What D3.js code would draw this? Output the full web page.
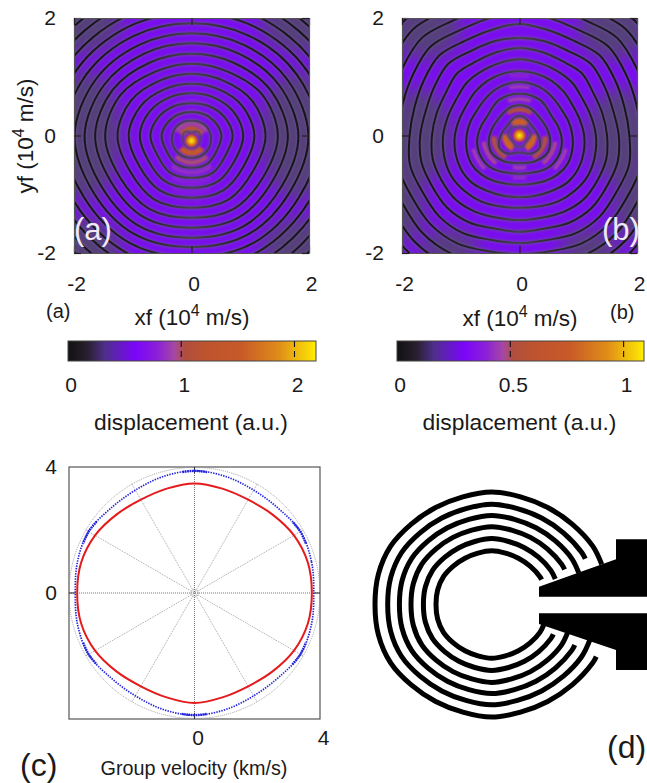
<!DOCTYPE html>
<html>
<head><meta charset="utf-8"></head>
<style>
  body { margin: 0; background: #fff; overflow: hidden; }
  text { font-family: "Liberation Sans", Arial, sans-serif; fill: #1a1a1a; }
  .ax path { stroke: #555; stroke-width: 1.2; fill: none; }
  .ax line { stroke: #222; stroke-width: 1.2; }
  .ax text { font-size: 21px; font-family: "Liberation Sans", Arial, sans-serif; fill: #1a1a1a; }
</style>
<script src="https://cdnjs.cloudflare.com/ajax/libs/d3/7.8.5/d3.min.js"></script>
<svg id="fig" width="647" height="783"></svg>
<script>
// ring radii of the dark nodal lines, 10^4 m/s, right half only (the maps mirror about xf = 0)
var ringAnglesA = [-90, -60, -30, 0, 30, 60, 90];
var ringsA = [
  [.21, .20, .17, .15, .12, .07, .03],
  [.38, .38, .36, .33, .30, .27, .25],
  [.55, .55, .50, .51, .46, .42, .40],
  [.72, .73, .67, .70, .64, .58, .55],
  [.89, .90, .85, .88, .82, .75, .72],
  [1.06, 1.08, 1.03, 1.07, 1.00, .91, .88],
  [1.23, 1.26, 1.21, 1.26, 1.19, 1.08, 1.05],
  [1.40, 1.44, 1.41, 1.47, 1.39, 1.25, 1.22],
  [1.57, 1.61, 1.58, 1.64, 1.55, 1.43, 1.39],
  [1.74, 1.78, 1.76, 1.82, 1.72, 1.61, 1.57],
  [1.90, 1.94, 1.93, 1.99, 1.89, 1.78, 1.74],
  [2.07, 2.11, 2.11, 2.18, 2.07, 1.96, 1.91],
  [2.24, 2.28, 2.29, 2.36, 2.25, 2.14, 2.08],
  [2.41, 2.45, 2.47, 2.55, 2.43, 2.32, 2.26],
  [2.58, 2.63, 2.65, 2.74, 2.61, 2.50, 2.43],
  [2.75, 2.81, 2.83, 2.92, 2.79, 2.67, 2.60],
  [2.92, 2.98, 3.01, 3.11, 2.97, 2.85, 2.77],
  [3.09, 3.16, 3.19, 3.30, 3.15, 3.03, 2.94]
];
var ringAnglesB = [-90, -75, -60, -45, -30, -15, 0, 15, 30, 45, 60, 75, 90];
var ringsB = [
  [.20, .19, .17, .15, .15, .17, .19, .19, .18, .19, .17, .14, .13],
  [.29, .31, .36, .39, .40, .36, .32, .29, .27, .27, .29, .32, .33],
  [.47, .48, .51, .54, .56, .54, .51, .48, .46, .46, .48, .51, .52],
  [.65, .66, .70, .74, .75, .74, .71, .67, .64, .66, .70, .71, .71],
  [.84, .85, .89, .93, .95, .93, .90, .87, .84, .85, .88, .90, .91],
  [1.05, 1.06, 1.09, 1.14, 1.15, 1.13, 1.10, 1.06, 1.04, 1.06, 1.08, 1.09, 1.10],
  [1.23, 1.25, 1.30, 1.33, 1.35, 1.33, 1.30, 1.26, 1.24, 1.27, 1.27, 1.28, 1.30],
  [1.44, 1.45, 1.50, 1.54, 1.53, 1.53, 1.49, 1.46, 1.45, 1.50, 1.46, 1.47, 1.49],
  [1.64, 1.64, 1.71, 1.74, 1.72, 1.73, 1.69, 1.65, 1.67, 1.72, 1.66, 1.66, 1.66],
  [1.83, 1.84, 1.92, 1.94, 1.91, 1.93, 1.87, 1.85, 1.88, 1.93, 1.86, 1.86, 1.90],
  [2.02, 2.04, 2.12, 2.14, 2.11, 2.13, 2.07, 2.06, 2.09, 2.14, 2.06, 2.06, 2.10],
  [2.22, 2.24, 2.32, 2.34, 2.30, 2.32, 2.27, 2.27, 2.30, 2.35, 2.26, 2.26, 2.30],
  [2.42, 2.45, 2.52, 2.54, 2.50, 2.51, 2.47, 2.48, 2.51, 2.56, 2.47, 2.46, 2.50],
  [2.62, 2.66, 2.72, 2.74, 2.69, 2.70, 2.67, 2.69, 2.72, 2.77, 2.68, 2.67, 2.70],
  [2.82, 2.87, 2.92, 2.95, 2.89, 2.89, 2.87, 2.90, 2.93, 2.98, 2.89, 2.88, 2.90],
  [3.02, 3.08, 3.12, 3.16, 3.09, 3.09, 3.07, 3.11, 3.14, 3.19, 3.10, 3.09, 3.10]
];

// bright lobes between rings: angle (deg), half span (deg), radius, radial width, displacement
var lobesA = [
  [90, 58, .20, .11, 1.3], [270, 55, .21, .12, 1.4],
  [90, 58, .31, .08, .95], [270, 45, .37, .09, .98],
  [90, 42, .50, .08, .78], [270, 38, .54, .08, .84],
  [90, 26, .68, .07, .72], [270, 28, .71, .08, .76],
  [270, 22, .88, .07, .72], [270, 16, 1.05, .06, .68]
];
var lobesB = [
  [90, 34, .235, .13, .78], [210, 34, .235, .13, .80], [330, 34, .235, .13, .80],
  [90, 28, .44, .09, .52], [210, 28, .44, .09, .52], [330, 28, .44, .09, .52],
  [90, 18, .62, .07, .46], [210, 20, .62, .07, .48], [330, 20, .62, .07, .48],
  [90, 12, .83, .06, .45], [210, 14, .82, .06, .46], [330, 14, .82, .06, .46],
  [90, 9, 1.02, .06, .40], [270, 12, .55, .07, .45], [270, 9, .72, .06, .42]
];
// muted, darker zones of the maps: x, y, rx, ry (10^4 m/s)
var mutedA = [[-1.8, 0, .6, 1.1], [1.8, 0, .6, 1.1], [-1.9, 1.9, .7, .5], [1.9, 1.9, .7, .5], [-1.9, -1.9, .7, .5], [1.9, -1.9, .7, .5]];
var mutedB = [[-1.6, 1.8, .6, .5], [1.6, 1.8, .6, .5], [-1.7, 0, .55, .8], [1.7, 0, .55, .8], [-2, -1.2, .4, .6], [2, -1.2, .4, .6], [-1.2, -1.9, .5, .3], [1.2, -1.9, .5, .3]];

// colour bar palette: position along bar, colour
var paletteStops = [0, .08, .15, .27, .36, .43, .47, .55, .7, .85, .97, 1];
var paletteColors = ["#111111", "#2a2030", "#4f2f8c", "#7a05fa", "#8a20d8", "#a648a4", "#b04e3e", "#bd5430", "#c85a28", "#e08c18", "#f8d808", "#ffee00"];
var barMaxA = 2.19, barTicksA = [0, 1, 2];
var barMaxB = 1.09, barTicksB = [0, .5, 1];

// panel (c), polar data every 15 degrees starting at 0
var polarAngles = d3.range(0, 360, 15);
var redRadii = [3.74, 3.74, 3.66, 3.52, 3.42, 3.43, 3.48, 3.43, 3.42, 3.52, 3.66, 3.74, 3.74, 3.74, 3.66, 3.52, 3.42, 3.43, 3.49, 3.43, 3.42, 3.52, 3.66, 3.74];
var blueRadii = [3.80, 3.86, 3.90, 3.79, 3.77, 3.83, 3.88, 3.83, 3.77, 3.79, 3.90, 3.86, 3.80, 3.86, 3.90, 3.79, 3.77, 3.83, 3.88, 3.83, 3.77, 3.79, 3.90, 3.86];
var blueBunches = [30, 90, 150, 210, 270, 330];
var spokeAngles = d3.range(0, 180, 30);

// panel (d), electrode drawn in its own units centred on the focus
var fingerRadii = [116.7, 104, 92.3, 80.7, 68.3, 55.7];
var fingerUpperEnd = [20, 26, 20, 25.6, 21.8, 26.5];
var fingerLowerEnd = [-26.5, -20, -26, -20, -25.8, -21];
var fingerAngles = [0, 15, 30, 45, 60, 75, 90];
var fingerShape = [1, 1.005, 1, .975, .96, .955, .965];
var upperPad = [[47.3, 17.8], [47.3, 7.8], [155.3, 7.8], [155.3, 65.2], [124.3, 65.2], [124.3, 45.2]];
var lowerPad = [[47.3, -8.8], [47.3, -19.5], [124.3, -45.5], [124.3, -65.5], [155.3, -65.5], [155.3, -8.8]];

var svg = d3.select("#fig");
var defs = svg.append("defs");

function blur(id, s) {
  defs.append("filter").attr("id", id)
      .attr("x", "-30%").attr("y", "-30%").attr("width", "160%").attr("height", "160%")
    .append("feGaussianBlur").attr("stdDeviation", s);
}
blur("b05", .6);
blur("b1", 1.1);
blur("b8", 9);

var paletteScale = d3.scaleLinear().domain(paletteStops).range(paletteColors);
var rad = Math.PI / 180;
var plainTick = function(d) { return String(d); };

function mirrorRing(angles, row) {
  // right half from -90 to 90, then the same points back on the left
  var pts = angles.map(function(a, i) { return [a, row[i]]; });
  for (var i = angles.length - 2; i > 0; i--) pts.push([180 - angles[i], row[i]]);
  return pts;
}

function drawField(o) {
  var x = d3.scaleLinear().domain([-2, 2]).range([o.left, o.left + o.size]);
  var y = d3.scaleLinear().domain([-2, 2]).range([o.top + o.size, o.top]);
  var px = o.size / 4;

  defs.append("clipPath").attr("id", "clip" + o.id)
    .append("rect").attr("x", o.left).attr("y", o.top).attr("width", o.size).attr("height", o.size);

  var grad = defs.append("linearGradient").attr("id", "ring" + o.id)
      .attr("gradientUnits", "userSpaceOnUse")
      .attr("x1", o.left).attr("x2", o.left + o.size).attr("y1", 0).attr("y2", 0);
  [[0, "#151217"], [.28, "#242028"], [.5, "#46404f"], [.72, "#242028"], [1, "#151217"]].forEach(function(s) {
    grad.append("stop").attr("offset", s[0]).attr("stop-color", s[1]);
  });

  var g = svg.append("g").attr("clip-path", "url(#clip" + o.id + ")");
  g.append("rect").attr("x", o.left).attr("y", o.top).attr("width", o.size).attr("height", o.size)
      .attr("fill", "#7a0df0");

  g.append("g").attr("filter", "url(#b8)").selectAll("ellipse").data(o.muted).enter().append("ellipse")
      .attr("cx", function(d) { return x(d[0]); })
      .attr("cy", function(d) { return y(d[1]); })
      .attr("rx", function(d) { return d[2] * px; })
      .attr("ry", function(d) { return d[3] * px; })
      .attr("fill", "#54417a");

  var arc = d3.arc();
  g.append("g").attr("filter", "url(#b1)").selectAll("path").data(o.lobes).enter().append("path")
      .attr("transform", "translate(" + x(o.cx) + "," + y(o.cy) + ")")
      .attr("d", function(d) {
        return arc({
          innerRadius: (d[2] - d[3] / 2) * px,
          outerRadius: (d[2] + d[3] / 2) * px,
          startAngle: (90 - d[0] - d[1]) * rad,
          endAngle: (90 - d[0] + d[1]) * rad
        });
      })
      .attr("fill", function(d) { return paletteScale(d[4] / o.barMax); });

  var ringLine = d3.line()
      .x(function(d) { return x(d[1] * Math.cos(d[0] * rad)); })
      .y(function(d) { return y(d[1] * Math.sin(d[0] * rad)); })
      .curve(d3.curveCatmullRomClosed);
  var paths = o.rings.map(function(r) { return ringLine(mirrorRing(o.ringAngles, r)); });

  g.append("g").attr("filter", "url(#b1)").selectAll("path").data(paths).enter().append("path")
      .attr("d", String).attr("fill", "none").attr("stroke", "#66508c")
      .attr("stroke-opacity", .7).attr("stroke-width", 4);
  g.append("g").attr("filter", "url(#b05)").selectAll("path").data(paths).enter().append("path")
      .attr("d", String).attr("fill", "none").attr("stroke", "url(#ring" + o.id + ")")
      .attr("stroke-opacity", function(d, i) { return i === 0 ? .45 : (i === 1 ? .8 : 1); })
      .attr("stroke-width", 2);

  var spot = defs.append("radialGradient").attr("id", "spot" + o.id);
  [[0, 1], [.3, .9], [.6, .62], [1, .3]].forEach(function(s) {
    spot.append("stop").attr("offset", s[0]).attr("stop-color", paletteScale(s[1]))
        .attr("stop-opacity", s[0] === 1 ? 0 : 1);
  });
  g.append("circle").attr("cx", x(o.cx)).attr("cy", y(o.cy)).attr("r", .15 * px)
      .attr("fill", "url(#spot" + o.id + ")");

  // gnuplot border: labels on bottom and left, plain ticks on top and right
  var tv = [-2, 0, 2];
  svg.append("g").attr("class", "ax").attr("transform", "translate(0," + (o.top + o.size) + ")")
      .call(d3.axisBottom(x).tickValues(tv).tickSizeInner(-7).tickSizeOuter(0).tickPadding(23).tickFormat(plainTick))
      .selectAll("text").attr("dx", 2);
  svg.append("g").attr("class", "ax").attr("transform", "translate(" + o.left + ",0)")
      .call(d3.axisLeft(y).tickValues(tv).tickSizeInner(-7).tickSizeOuter(0).tickPadding(18).tickFormat(plainTick));
  svg.append("g").attr("class", "ax").attr("transform", "translate(0," + o.top + ")")
      .call(d3.axisTop(x).tickValues(tv).tickSizeInner(-7).tickSizeOuter(0).tickFormat(""));
  svg.append("g").attr("class", "ax").attr("transform", "translate(" + (o.left + o.size) + ",0)")
      .call(d3.axisRight(y).tickValues(tv).tickSizeInner(-7).tickSizeOuter(0).tickFormat(""));
}

drawField({ id: "A", left: 74, top: 18, size: 235, rings: ringsA, ringAngles: ringAnglesA, lobes: lobesA, muted: mutedA, cx: 0, cy: -.09, barMax: barMaxA });
drawField({ id: "B", left: 402, top: 18, size: 235, rings: ringsB, ringAngles: ringAnglesB, lobes: lobesB, muted: mutedB, cx: 0, cy: 0, barMax: barMaxB });

function supLabel(parent, cx, cy, pre, sup, post, rotate) {
  var t = parent.append("text").attr("text-anchor", "middle").attr("font-size", 22.5)
      .attr("transform", "translate(" + cx + "," + cy + ")" + (rotate ? " rotate(-90)" : ""));
  t.append("tspan").text(pre);
  t.append("tspan").attr("font-size", 16).attr("dy", -9).text(sup);
  t.append("tspan").attr("dy", 9).text(post);
}

supLabel(svg, 33, 136, "yf (10", "4", " m/s)", true);
supLabel(svg, 192, 325, "xf (10", "4", " m/s)");
supLabel(svg, 520, 326, "xf (10", "4", " m/s)");

svg.append("text").attr("x", 46).attr("y", 318).attr("font-size", 20).text("(a)");
svg.append("text").attr("x", 610).attr("y", 319).attr("font-size", 20).text("(b)");
svg.append("text").attr("x", 74).attr("y", 240).attr("font-size", 31).style("fill", "#f0e8f4").text("(a)");
svg.append("text").attr("x", 602).attr("y", 240).attr("font-size", 31).style("fill", "#f0e8f4").text("(b)");

function drawBar(id, left, width, barMax, ticks, fmt) {
  var x = d3.scaleLinear().domain([0, barMax]).range([left, left + width]);
  var top = 341, h = 20;
  var grad = defs.append("linearGradient").attr("id", "bar" + id);
  paletteStops.forEach(function(s, i) {
    grad.append("stop").attr("offset", s).attr("stop-color", paletteColors[i]);
  });
  svg.append("rect").attr("x", left).attr("y", top).attr("width", width).attr("height", h)
      .attr("fill", "url(#bar" + id + ")").attr("stroke", "#444").attr("stroke-width", 1);
  svg.selectAll(null).data(ticks.slice(1)).enter().append("line")
      .attr("x1", x).attr("x2", x).attr("y1", top).attr("y2", top + h)
      .attr("stroke", "#111").attr("stroke-width", 1.1).attr("stroke-dasharray", "6 4");
  svg.selectAll(null).data(ticks).enter().append("text")
      .attr("x", function(d) { return x(d) + 3; }).attr("y", 392)
      .attr("text-anchor", "middle").attr("font-size", 21).text(fmt);
  svg.append("text").attr("x", x(0) + width / 2 - 1).attr("y", 430)
      .attr("text-anchor", "middle").attr("font-size", 22.8).text("displacement (a.u.)");
}
drawBar("A", 68, 248, barMaxA, barTicksA, plainTick);
drawBar("B", 397, 247, barMaxB, barTicksB, plainTick);

// panel (c)
(function() {
  var x = d3.scaleLinear().domain([-4, 4]).range([69, 320]);
  var y = d3.scaleLinear().domain([-4, 4]).range([719, 467]);
  var g = svg.append("g");
  var polar = d3.line()
      .x(function(d) { return x(d[1] * Math.cos(d[0] * rad)); })
      .y(function(d) { return y(d[1] * Math.sin(d[0] * rad)); });

  g.append("rect").attr("x", 69).attr("y", 467).attr("width", 251).attr("height", 252)
      .attr("fill", "none").attr("stroke", "#555").attr("stroke-width", 1.2);

  g.selectAll(".spoke").data(spokeAngles).enter().append("path")
      .attr("d", function(a) { return polar([[a, 4], [a + 180, 4]]); })
      .attr("stroke", function(a) { return a % 90 === 0 ? "#666" : "#999"; })
      .attr("stroke-width", .9).attr("stroke-dasharray", "1 1").attr("fill", "none");
  g.selectAll(".ref").data([4, .12]).enter().append("circle")
      .attr("cx", x(0)).attr("cy", y(0))
      .attr("r", function(d) { return x(d) - x(0); })
      .attr("fill", "none").attr("stroke", "#999").attr("stroke-width", .9).attr("stroke-dasharray", "1 1");

  var axX = d3.axisBottom(x).tickValues([0, 4]).tickSizeInner(0).tickSizeOuter(0).tickPadding(11).tickFormat(plainTick);
  var axY = d3.axisLeft(y).tickValues([0, 4]).tickSizeInner(0).tickSizeOuter(0).tickPadding(12).tickFormat(plainTick);
  var gx = svg.append("g").attr("class", "ax").attr("transform", "translate(0,719)").call(axX);
  gx.select("path").remove();
  gx.selectAll("text").attr("dx", 3);
  var gy = svg.append("g").attr("class", "ax").attr("transform", "translate(69,0)").call(axY);
  gy.select("path").remove();

  // short marks where the zero lines meet the frame
  g.selectAll(".mark").data([[-4, 0, -3.8, 0], [3.8, 0, 4, 0], [0, -4, 0, -3.8], [0, 3.8, 0, 4]]).enter().append("line")
      .attr("x1", function(d) { return x(d[0]); }).attr("y1", function(d) { return y(d[1]); })
      .attr("x2", function(d) { return x(d[2]); }).attr("y2", function(d) { return y(d[3]); })
      .attr("stroke", "#333").attr("stroke-width", 1.1);

  var closed = d3.line().x(polar.x()).y(polar.y()).curve(d3.curveCatmullRomClosed);
  g.append("path").attr("d", closed(polarAngles.map(function(a, i) { return [a, blueRadii[i]]; })))
      .attr("fill", "none").attr("stroke", "#2222dd").attr("stroke-width", 1.7)
      .attr("stroke-dasharray", "1.4 1.2");
  var blueAt = d3.scaleLinear().domain(polarAngles).range(blueRadii);
  g.selectAll(".bunch").data(blueBunches).enter().append("path")
      .attr("d", function(a) {
        return polar([a - 6, a - 3, a, a + 3, a + 6].map(function(t) { return [t, blueAt(t)]; }));
      })
      .attr("fill", "none").attr("stroke", "#2222dd").attr("stroke-width", 2.4).attr("stroke-dasharray", "1.6 .7");
  g.append("path").attr("d", closed(polarAngles.map(function(a, i) { return [a, redRadii[i]]; })))
      .attr("fill", "none").attr("stroke", "#e41a1c").attr("stroke-width", 2);

  svg.append("text").attr("x", 194).attr("y", 775).attr("text-anchor", "middle").attr("font-size", 19.8).text("Group velocity (km/s)");
  svg.append("text").attr("x", 20).attr("y", 776).attr("font-size", 32).text("(c)");
})();

// panel (d)
(function() {
  var x = d3.scaleLinear().domain([-120, 120]).range([491.7 - 120, 491.7 + 120]);
  var y = d3.scaleLinear().domain([-120, 120]).range([604.5 + 120, 604.5 - 120]);
  var shape = d3.scaleLinear().domain(fingerAngles).range(fingerShape);
  var line = d3.line()
      .x(function(d) { return x(d[1] * Math.cos(d[0] * rad)); })
      .y(function(d) { return y(d[1] * Math.sin(d[0] * rad)); })
      .curve(d3.curveCatmullRom);

  function fold(a) {
    // the finger outline repeats about both axes
    a = Math.abs(a) % 180;
    return a > 90 ? 180 - a : a;
  }

  var g = svg.append("g");
  fingerRadii.forEach(function(r, i) {
    var angles = [fingerUpperEnd[i]].concat(d3.range(30, 331, 15), [360 + fingerLowerEnd[i]]);
    g.append("path")
        .attr("d", line(angles.map(function(a) { return [a, r * shape(fold(a))]; })))
        .attr("fill", "none").attr("stroke", "#000").attr("stroke-width", 5);
  });
  g.selectAll(".pad").data([upperPad, lowerPad]).enter().append("polygon")
      .attr("points", function(p) { return p.map(function(d) { return [x(d[0]), y(d[1])].join(","); }).join(" "); })
      .attr("fill", "#000");
  svg.append("text").attr("x", 607).attr("y", 758).attr("font-size", 32).text("(d)");
})();
</script>
</html>
